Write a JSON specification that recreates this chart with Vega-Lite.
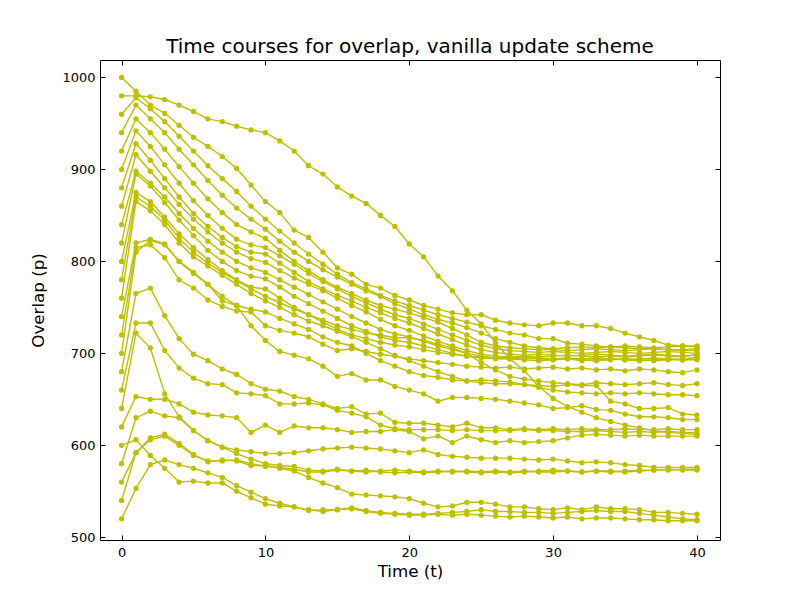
{
  "$schema": "https://vega.github.io/schema/vega-lite/v6.json",
  "width": 620,
  "height": 480,
  "autosize": {"type": "none"},
  "padding": {"left": 100, "top": 60, "right": 80, "bottom": 60},
  "background": "white",
  "title": {"text": "Time courses for overlap, vanilla update scheme", "font": "DejaVu Sans", "fontSize": 20, "fontWeight": "normal", "color": "black", "frame": "group", "offset": 3},
  "config": {
    "view": {"stroke": "black", "strokeWidth": 1},
    "axis": {"grid": false, "domain": false, "labelFont": "DejaVu Sans", "titleFont": "DejaVu Sans", "labelFontSize": 13, "titleFontSize": 16.7, "labelColor": "black", "titleColor": "black", "titleFontWeight": "normal", "tickColor": "black", "tickSize": -5, "tickWidth": 1}
  },
  "data": {"values": [
{"s":1000,"t":0,"p":1000},{"s":1000,"t":1,"p":985},{"s":1000,"t":2,"p":970},{"s":1000,"t":3,"p":961},{"s":1000,"t":4,"p":948},{"s":1000,"t":5,"p":935},{"s":1000,"t":6,"p":925},{"s":1000,"t":7,"p":914},{"s":1000,"t":8,"p":901},{"s":1000,"t":9,"p":883},{"s":1000,"t":10,"p":865},{"s":1000,"t":11,"p":853},{"s":1000,"t":12,"p":834},{"s":1000,"t":13,"p":826},{"s":1000,"t":14,"p":810},{"s":1000,"t":15,"p":793},{"s":1000,"t":16,"p":786},{"s":1000,"t":17,"p":775},{"s":1000,"t":18,"p":771},{"s":1000,"t":19,"p":763},{"s":1000,"t":20,"p":758},{"s":1000,"t":21,"p":752},{"s":1000,"t":22,"p":748},{"s":1000,"t":23,"p":744},{"s":1000,"t":24,"p":742},{"s":1000,"t":25,"p":742},{"s":1000,"t":26,"p":736},{"s":1000,"t":27,"p":733},{"s":1000,"t":28,"p":731},{"s":1000,"t":29,"p":730},{"s":1000,"t":30,"p":733},{"s":1000,"t":31,"p":733},{"s":1000,"t":32,"p":730},{"s":1000,"t":33,"p":730},{"s":1000,"t":34,"p":727},{"s":1000,"t":35,"p":722},{"s":1000,"t":36,"p":718},{"s":1000,"t":37,"p":714},{"s":1000,"t":38,"p":709},{"s":1000,"t":39,"p":708},{"s":1000,"t":40,"p":707},
{"s":980,"t":0,"p":980},{"s":980,"t":1,"p":980},{"s":980,"t":2,"p":979},{"s":980,"t":3,"p":976},{"s":980,"t":4,"p":970},{"s":980,"t":5,"p":963},{"s":980,"t":6,"p":955},{"s":980,"t":7,"p":952},{"s":980,"t":8,"p":947},{"s":980,"t":9,"p":943},{"s":980,"t":10,"p":940},{"s":980,"t":11,"p":931},{"s":980,"t":12,"p":920},{"s":980,"t":13,"p":904},{"s":980,"t":14,"p":895},{"s":980,"t":15,"p":881},{"s":980,"t":16,"p":871},{"s":980,"t":17,"p":863},{"s":980,"t":18,"p":850},{"s":980,"t":19,"p":838},{"s":980,"t":20,"p":819},{"s":980,"t":21,"p":805},{"s":980,"t":22,"p":784},{"s":980,"t":23,"p":768},{"s":980,"t":24,"p":747},{"s":980,"t":25,"p":732},{"s":980,"t":26,"p":711},{"s":980,"t":27,"p":694},{"s":980,"t":28,"p":681},{"s":980,"t":29,"p":664},{"s":980,"t":30,"p":651},{"s":980,"t":31,"p":642},{"s":980,"t":32,"p":636},{"s":980,"t":33,"p":630},{"s":980,"t":34,"p":626},{"s":980,"t":35,"p":622},{"s":980,"t":36,"p":619},{"s":980,"t":37,"p":616},{"s":980,"t":38,"p":614},{"s":980,"t":39,"p":613},{"s":980,"t":40,"p":612},
{"s":960,"t":0,"p":960},{"s":960,"t":1,"p":978},{"s":960,"t":2,"p":966},{"s":960,"t":3,"p":952},{"s":960,"t":4,"p":936},{"s":960,"t":5,"p":920},{"s":960,"t":6,"p":904},{"s":960,"t":7,"p":890},{"s":960,"t":8,"p":876},{"s":960,"t":9,"p":860},{"s":960,"t":10,"p":846},{"s":960,"t":11,"p":833},{"s":960,"t":12,"p":820},{"s":960,"t":13,"p":808},{"s":960,"t":14,"p":797},{"s":960,"t":15,"p":786},{"s":960,"t":16,"p":777},{"s":960,"t":17,"p":770},{"s":960,"t":18,"p":763},{"s":960,"t":19,"p":757},{"s":960,"t":20,"p":752},{"s":960,"t":21,"p":747},{"s":960,"t":22,"p":742},{"s":960,"t":23,"p":738},{"s":960,"t":24,"p":734},{"s":960,"t":25,"p":730},{"s":960,"t":26,"p":726},{"s":960,"t":27,"p":722},{"s":960,"t":28,"p":720},{"s":960,"t":29,"p":716},{"s":960,"t":30,"p":716},{"s":960,"t":31,"p":711},{"s":960,"t":32,"p":710},{"s":960,"t":33,"p":708},{"s":960,"t":34,"p":707},{"s":960,"t":35,"p":706},{"s":960,"t":36,"p":705},{"s":960,"t":37,"p":705},{"s":960,"t":38,"p":704},{"s":960,"t":39,"p":704},{"s":960,"t":40,"p":705},
{"s":940,"t":0,"p":940},{"s":940,"t":1,"p":970},{"s":940,"t":2,"p":955},{"s":940,"t":3,"p":940},{"s":940,"t":4,"p":922},{"s":940,"t":5,"p":905},{"s":940,"t":6,"p":888},{"s":940,"t":7,"p":872},{"s":940,"t":8,"p":858},{"s":940,"t":9,"p":846},{"s":940,"t":10,"p":835},{"s":940,"t":11,"p":822},{"s":940,"t":12,"p":810},{"s":940,"t":13,"p":800},{"s":940,"t":14,"p":791},{"s":940,"t":15,"p":783},{"s":940,"t":16,"p":775},{"s":940,"t":17,"p":768},{"s":940,"t":18,"p":762},{"s":940,"t":19,"p":754},{"s":940,"t":20,"p":748},{"s":940,"t":21,"p":742},{"s":940,"t":22,"p":737},{"s":940,"t":23,"p":733},{"s":940,"t":24,"p":728},{"s":940,"t":25,"p":722},{"s":940,"t":26,"p":716},{"s":940,"t":27,"p":712},{"s":940,"t":28,"p":708},{"s":940,"t":29,"p":706},{"s":940,"t":30,"p":705},{"s":940,"t":31,"p":706},{"s":940,"t":32,"p":707},{"s":940,"t":33,"p":706},{"s":940,"t":34,"p":707},{"s":940,"t":35,"p":708},{"s":940,"t":36,"p":707},{"s":940,"t":37,"p":706},{"s":940,"t":38,"p":707},{"s":940,"t":39,"p":708},{"s":940,"t":40,"p":708},
{"s":920,"t":0,"p":920},{"s":920,"t":1,"p":955},{"s":920,"t":2,"p":940},{"s":920,"t":3,"p":922},{"s":920,"t":4,"p":903},{"s":920,"t":5,"p":885},{"s":920,"t":6,"p":868},{"s":920,"t":7,"p":853},{"s":920,"t":8,"p":840},{"s":920,"t":9,"p":832},{"s":920,"t":10,"p":825},{"s":920,"t":11,"p":812},{"s":920,"t":12,"p":800},{"s":920,"t":13,"p":790},{"s":920,"t":14,"p":780},{"s":920,"t":15,"p":772},{"s":920,"t":16,"p":765},{"s":920,"t":17,"p":758},{"s":920,"t":18,"p":752},{"s":920,"t":19,"p":748},{"s":920,"t":20,"p":744},{"s":920,"t":21,"p":739},{"s":920,"t":22,"p":734},{"s":920,"t":23,"p":727},{"s":920,"t":24,"p":720},{"s":920,"t":25,"p":712},{"s":920,"t":26,"p":708},{"s":920,"t":27,"p":706},{"s":920,"t":28,"p":705},{"s":920,"t":29,"p":704},{"s":920,"t":30,"p":704},{"s":920,"t":31,"p":703},{"s":920,"t":32,"p":704},{"s":920,"t":33,"p":705},{"s":920,"t":34,"p":704},{"s":920,"t":35,"p":703},{"s":920,"t":36,"p":704},{"s":920,"t":37,"p":705},{"s":920,"t":38,"p":704},{"s":920,"t":39,"p":703},{"s":920,"t":40,"p":703},
{"s":900,"t":0,"p":900},{"s":900,"t":1,"p":942},{"s":900,"t":2,"p":925},{"s":900,"t":3,"p":905},{"s":900,"t":4,"p":885},{"s":900,"t":5,"p":866},{"s":900,"t":6,"p":850},{"s":900,"t":7,"p":836},{"s":900,"t":8,"p":824},{"s":900,"t":9,"p":818},{"s":900,"t":10,"p":815},{"s":900,"t":11,"p":806},{"s":900,"t":12,"p":797},{"s":900,"t":13,"p":787},{"s":900,"t":14,"p":778},{"s":900,"t":15,"p":770},{"s":900,"t":16,"p":762},{"s":900,"t":17,"p":755},{"s":900,"t":18,"p":748},{"s":900,"t":19,"p":742},{"s":900,"t":20,"p":738},{"s":900,"t":21,"p":732},{"s":900,"t":22,"p":726},{"s":900,"t":23,"p":720},{"s":900,"t":24,"p":714},{"s":900,"t":25,"p":709},{"s":900,"t":26,"p":705},{"s":900,"t":27,"p":703},{"s":900,"t":28,"p":702},{"s":900,"t":29,"p":701},{"s":900,"t":30,"p":702},{"s":900,"t":31,"p":701},{"s":900,"t":32,"p":700},{"s":900,"t":33,"p":701},{"s":900,"t":34,"p":702},{"s":900,"t":35,"p":701},{"s":900,"t":36,"p":700},{"s":900,"t":37,"p":701},{"s":900,"t":38,"p":702},{"s":900,"t":39,"p":701},{"s":900,"t":40,"p":700},
{"s":880,"t":0,"p":880},{"s":880,"t":1,"p":928},{"s":880,"t":2,"p":910},{"s":880,"t":3,"p":890},{"s":880,"t":4,"p":870},{"s":880,"t":5,"p":852},{"s":880,"t":6,"p":838},{"s":880,"t":7,"p":826},{"s":880,"t":8,"p":816},{"s":880,"t":9,"p":810},{"s":880,"t":10,"p":808},{"s":880,"t":11,"p":798},{"s":880,"t":12,"p":788},{"s":880,"t":13,"p":778},{"s":880,"t":14,"p":770},{"s":880,"t":15,"p":763},{"s":880,"t":16,"p":757},{"s":880,"t":17,"p":750},{"s":880,"t":18,"p":744},{"s":880,"t":19,"p":738},{"s":880,"t":20,"p":733},{"s":880,"t":21,"p":727},{"s":880,"t":22,"p":721},{"s":880,"t":23,"p":715},{"s":880,"t":24,"p":709},{"s":880,"t":25,"p":704},{"s":880,"t":26,"p":701},{"s":880,"t":27,"p":699},{"s":880,"t":28,"p":698},{"s":880,"t":29,"p":699},{"s":880,"t":30,"p":698},{"s":880,"t":31,"p":697},{"s":880,"t":32,"p":698},{"s":880,"t":33,"p":699},{"s":880,"t":34,"p":698},{"s":880,"t":35,"p":697},{"s":880,"t":36,"p":698},{"s":880,"t":37,"p":699},{"s":880,"t":38,"p":698},{"s":880,"t":39,"p":697},{"s":880,"t":40,"p":698},
{"s":860,"t":0,"p":860},{"s":860,"t":1,"p":916},{"s":860,"t":2,"p":898},{"s":860,"t":3,"p":880},{"s":860,"t":4,"p":862},{"s":860,"t":5,"p":846},{"s":860,"t":6,"p":832},{"s":860,"t":7,"p":820},{"s":860,"t":8,"p":810},{"s":860,"t":9,"p":803},{"s":860,"t":10,"p":799},{"s":860,"t":11,"p":790},{"s":860,"t":12,"p":782},{"s":860,"t":13,"p":775},{"s":860,"t":14,"p":768},{"s":860,"t":15,"p":760},{"s":860,"t":16,"p":752},{"s":860,"t":17,"p":745},{"s":860,"t":18,"p":737},{"s":860,"t":19,"p":730},{"s":860,"t":20,"p":725},{"s":860,"t":21,"p":719},{"s":860,"t":22,"p":713},{"s":860,"t":23,"p":708},{"s":860,"t":24,"p":703},{"s":860,"t":25,"p":699},{"s":860,"t":26,"p":697},{"s":860,"t":27,"p":696},{"s":860,"t":28,"p":695},{"s":860,"t":29,"p":695},{"s":860,"t":30,"p":694},{"s":860,"t":31,"p":695},{"s":860,"t":32,"p":694},{"s":860,"t":33,"p":695},{"s":860,"t":34,"p":694},{"s":860,"t":35,"p":693},{"s":860,"t":36,"p":694},{"s":860,"t":37,"p":695},{"s":860,"t":38,"p":694},{"s":860,"t":39,"p":693},{"s":860,"t":40,"p":696},
{"s":840,"t":0,"p":840},{"s":840,"t":1,"p":898},{"s":840,"t":2,"p":885},{"s":840,"t":3,"p":870},{"s":840,"t":4,"p":852},{"s":840,"t":5,"p":836},{"s":840,"t":6,"p":822},{"s":840,"t":7,"p":810},{"s":840,"t":8,"p":800},{"s":840,"t":9,"p":793},{"s":840,"t":10,"p":788},{"s":840,"t":11,"p":780},{"s":840,"t":12,"p":772},{"s":840,"t":13,"p":764},{"s":840,"t":14,"p":756},{"s":840,"t":15,"p":748},{"s":840,"t":16,"p":740},{"s":840,"t":17,"p":733},{"s":840,"t":18,"p":726},{"s":840,"t":19,"p":721},{"s":840,"t":20,"p":718},{"s":840,"t":21,"p":713},{"s":840,"t":22,"p":708},{"s":840,"t":23,"p":704},{"s":840,"t":24,"p":700},{"s":840,"t":25,"p":697},{"s":840,"t":26,"p":695},{"s":840,"t":27,"p":694},{"s":840,"t":28,"p":693},{"s":840,"t":29,"p":692},{"s":840,"t":30,"p":693},{"s":840,"t":31,"p":694},{"s":840,"t":32,"p":693},{"s":840,"t":33,"p":692},{"s":840,"t":34,"p":693},{"s":840,"t":35,"p":694},{"s":840,"t":36,"p":693},{"s":840,"t":37,"p":692},{"s":840,"t":38,"p":693},{"s":840,"t":39,"p":693},{"s":840,"t":40,"p":693},
{"s":820,"t":0,"p":820},{"s":820,"t":1,"p":895},{"s":820,"t":2,"p":882},{"s":820,"t":3,"p":864},{"s":820,"t":4,"p":845},{"s":820,"t":5,"p":828},{"s":820,"t":6,"p":812},{"s":820,"t":7,"p":800},{"s":820,"t":8,"p":790},{"s":820,"t":9,"p":784},{"s":820,"t":10,"p":781},{"s":820,"t":11,"p":772},{"s":820,"t":12,"p":762},{"s":820,"t":13,"p":754},{"s":820,"t":14,"p":746},{"s":820,"t":15,"p":738},{"s":820,"t":16,"p":730},{"s":820,"t":17,"p":724},{"s":820,"t":18,"p":718},{"s":820,"t":19,"p":714},{"s":820,"t":20,"p":712},{"s":820,"t":21,"p":708},{"s":820,"t":22,"p":704},{"s":820,"t":23,"p":700},{"s":820,"t":24,"p":697},{"s":820,"t":25,"p":695},{"s":820,"t":26,"p":694},{"s":820,"t":27,"p":694},{"s":820,"t":28,"p":695},{"s":820,"t":29,"p":694},{"s":820,"t":30,"p":693},{"s":820,"t":31,"p":694},{"s":820,"t":32,"p":692},{"s":820,"t":33,"p":693},{"s":820,"t":34,"p":694},{"s":820,"t":35,"p":693},{"s":820,"t":36,"p":692},{"s":820,"t":37,"p":693},{"s":820,"t":38,"p":694},{"s":820,"t":39,"p":693},{"s":820,"t":40,"p":694},
{"s":800,"t":0,"p":800},{"s":800,"t":1,"p":875},{"s":800,"t":2,"p":865},{"s":800,"t":3,"p":848},{"s":800,"t":4,"p":830},{"s":800,"t":5,"p":815},{"s":800,"t":6,"p":802},{"s":800,"t":7,"p":790},{"s":800,"t":8,"p":780},{"s":800,"t":9,"p":772},{"s":800,"t":10,"p":770},{"s":800,"t":11,"p":760},{"s":800,"t":12,"p":750},{"s":800,"t":13,"p":742},{"s":800,"t":14,"p":734},{"s":800,"t":15,"p":726},{"s":800,"t":16,"p":720},{"s":800,"t":17,"p":716},{"s":800,"t":18,"p":712},{"s":800,"t":19,"p":709},{"s":800,"t":20,"p":707},{"s":800,"t":21,"p":704},{"s":800,"t":22,"p":701},{"s":800,"t":23,"p":699},{"s":800,"t":24,"p":697},{"s":800,"t":25,"p":696},{"s":800,"t":26,"p":695},{"s":800,"t":27,"p":696},{"s":800,"t":28,"p":697},{"s":800,"t":29,"p":696},{"s":800,"t":30,"p":697},{"s":800,"t":31,"p":698},{"s":800,"t":32,"p":697},{"s":800,"t":33,"p":696},{"s":800,"t":34,"p":697},{"s":800,"t":35,"p":696},{"s":800,"t":36,"p":697},{"s":800,"t":37,"p":698},{"s":800,"t":38,"p":697},{"s":800,"t":39,"p":696},{"s":800,"t":40,"p":699},
{"s":780,"t":0,"p":780},{"s":780,"t":1,"p":870},{"s":780,"t":2,"p":860},{"s":780,"t":3,"p":845},{"s":780,"t":4,"p":825},{"s":780,"t":5,"p":810},{"s":780,"t":6,"p":798},{"s":780,"t":7,"p":788},{"s":780,"t":8,"p":779},{"s":780,"t":9,"p":770},{"s":780,"t":10,"p":762},{"s":780,"t":11,"p":755},{"s":780,"t":12,"p":748},{"s":780,"t":13,"p":742},{"s":780,"t":14,"p":736},{"s":780,"t":15,"p":730},{"s":780,"t":16,"p":726},{"s":780,"t":17,"p":722},{"s":780,"t":18,"p":720},{"s":780,"t":19,"p":717},{"s":780,"t":20,"p":717},{"s":780,"t":21,"p":714},{"s":780,"t":22,"p":710},{"s":780,"t":23,"p":706},{"s":780,"t":24,"p":700},{"s":780,"t":25,"p":690},{"s":780,"t":26,"p":682},{"s":780,"t":27,"p":675},{"s":780,"t":28,"p":672},{"s":780,"t":29,"p":670},{"s":780,"t":30,"p":668},{"s":780,"t":31,"p":667},{"s":780,"t":32,"p":666},{"s":780,"t":33,"p":668},{"s":780,"t":34,"p":667},{"s":780,"t":35,"p":666},{"s":780,"t":36,"p":667},{"s":780,"t":37,"p":668},{"s":780,"t":38,"p":666},{"s":780,"t":39,"p":665},{"s":780,"t":40,"p":667},
{"s":760,"t":0,"p":760},{"s":760,"t":1,"p":865},{"s":760,"t":2,"p":855},{"s":760,"t":3,"p":840},{"s":760,"t":4,"p":820},{"s":760,"t":5,"p":805},{"s":760,"t":6,"p":795},{"s":760,"t":7,"p":785},{"s":760,"t":8,"p":775},{"s":760,"t":9,"p":765},{"s":760,"t":10,"p":757},{"s":760,"t":11,"p":750},{"s":760,"t":12,"p":742},{"s":760,"t":13,"p":735},{"s":760,"t":14,"p":730},{"s":760,"t":15,"p":724},{"s":760,"t":16,"p":718},{"s":760,"t":17,"p":712},{"s":760,"t":18,"p":705},{"s":760,"t":19,"p":698},{"s":760,"t":20,"p":692},{"s":760,"t":21,"p":686},{"s":760,"t":22,"p":680},{"s":760,"t":23,"p":675},{"s":760,"t":24,"p":670},{"s":760,"t":25,"p":668},{"s":760,"t":26,"p":667},{"s":760,"t":27,"p":667},{"s":760,"t":28,"p":666},{"s":760,"t":29,"p":665},{"s":760,"t":30,"p":664},{"s":760,"t":31,"p":666},{"s":760,"t":32,"p":665},{"s":760,"t":33,"p":665},{"s":760,"t":34,"p":648},{"s":760,"t":35,"p":645},{"s":760,"t":36,"p":640},{"s":760,"t":37,"p":640},{"s":760,"t":38,"p":641},{"s":760,"t":39,"p":634},{"s":760,"t":40,"p":633},
{"s":740,"t":0,"p":740},{"s":740,"t":1,"p":820},{"s":740,"t":2,"p":824},{"s":740,"t":3,"p":819},{"s":740,"t":4,"p":800},{"s":740,"t":5,"p":788},{"s":740,"t":6,"p":775},{"s":740,"t":7,"p":762},{"s":740,"t":8,"p":752},{"s":740,"t":9,"p":748},{"s":740,"t":10,"p":745},{"s":740,"t":11,"p":738},{"s":740,"t":12,"p":732},{"s":740,"t":13,"p":726},{"s":740,"t":14,"p":718},{"s":740,"t":15,"p":712},{"s":740,"t":16,"p":708},{"s":740,"t":17,"p":700},{"s":740,"t":18,"p":692},{"s":740,"t":19,"p":686},{"s":740,"t":20,"p":680},{"s":740,"t":21,"p":676},{"s":740,"t":22,"p":674},{"s":740,"t":23,"p":671},{"s":740,"t":24,"p":670},{"s":740,"t":25,"p":671},{"s":740,"t":26,"p":670},{"s":740,"t":27,"p":669},{"s":740,"t":28,"p":666},{"s":740,"t":29,"p":663},{"s":740,"t":30,"p":660},{"s":740,"t":31,"p":658},{"s":740,"t":32,"p":657},{"s":740,"t":33,"p":656},{"s":740,"t":34,"p":657},{"s":740,"t":35,"p":656},{"s":740,"t":36,"p":657},{"s":740,"t":37,"p":656},{"s":740,"t":38,"p":655},{"s":740,"t":39,"p":655},{"s":740,"t":40,"p":654},
{"s":720,"t":0,"p":720},{"s":720,"t":1,"p":815},{"s":720,"t":2,"p":818},{"s":720,"t":3,"p":804},{"s":720,"t":4,"p":780},{"s":720,"t":5,"p":771},{"s":720,"t":6,"p":758},{"s":720,"t":7,"p":751},{"s":720,"t":8,"p":746},{"s":720,"t":9,"p":745},{"s":720,"t":10,"p":730},{"s":720,"t":11,"p":725},{"s":720,"t":12,"p":722},{"s":720,"t":13,"p":718},{"s":720,"t":14,"p":710},{"s":720,"t":15,"p":703},{"s":720,"t":16,"p":705},{"s":720,"t":17,"p":702},{"s":720,"t":18,"p":699},{"s":720,"t":19,"p":697},{"s":720,"t":20,"p":694},{"s":720,"t":21,"p":692},{"s":720,"t":22,"p":690},{"s":720,"t":23,"p":688},{"s":720,"t":24,"p":686},{"s":720,"t":25,"p":685},{"s":720,"t":26,"p":684},{"s":720,"t":27,"p":685},{"s":720,"t":28,"p":683},{"s":720,"t":29,"p":684},{"s":720,"t":30,"p":685},{"s":720,"t":31,"p":683},{"s":720,"t":32,"p":684},{"s":720,"t":33,"p":682},{"s":720,"t":34,"p":683},{"s":720,"t":35,"p":681},{"s":720,"t":36,"p":683},{"s":720,"t":37,"p":682},{"s":720,"t":38,"p":680},{"s":720,"t":39,"p":679},{"s":720,"t":40,"p":682},
{"s":700,"t":0,"p":700},{"s":700,"t":1,"p":810},{"s":700,"t":2,"p":823},{"s":700,"t":3,"p":818},{"s":700,"t":4,"p":800},{"s":700,"t":5,"p":787},{"s":700,"t":6,"p":775},{"s":700,"t":7,"p":757},{"s":700,"t":8,"p":752},{"s":700,"t":9,"p":730},{"s":700,"t":10,"p":714},{"s":700,"t":11,"p":702},{"s":700,"t":12,"p":698},{"s":700,"t":13,"p":694},{"s":700,"t":14,"p":686},{"s":700,"t":15,"p":675},{"s":700,"t":16,"p":678},{"s":700,"t":17,"p":671},{"s":700,"t":18,"p":671},{"s":700,"t":19,"p":664},{"s":700,"t":20,"p":660},{"s":700,"t":21,"p":656},{"s":700,"t":22,"p":648},{"s":700,"t":23,"p":652},{"s":700,"t":24,"p":652},{"s":700,"t":25,"p":651},{"s":700,"t":26,"p":650},{"s":700,"t":27,"p":648},{"s":700,"t":28,"p":646},{"s":700,"t":29,"p":644},{"s":700,"t":30,"p":640},{"s":700,"t":31,"p":641},{"s":700,"t":32,"p":643},{"s":700,"t":33,"p":639},{"s":700,"t":34,"p":638},{"s":700,"t":35,"p":634},{"s":700,"t":36,"p":631},{"s":700,"t":37,"p":631},{"s":700,"t":38,"p":630},{"s":700,"t":39,"p":628},{"s":700,"t":40,"p":628},
{"s":680,"t":0,"p":680},{"s":680,"t":1,"p":765},{"s":680,"t":2,"p":771},{"s":680,"t":3,"p":741},{"s":680,"t":4,"p":716},{"s":680,"t":5,"p":699},{"s":680,"t":6,"p":692},{"s":680,"t":7,"p":683},{"s":680,"t":8,"p":677},{"s":680,"t":9,"p":667},{"s":680,"t":10,"p":661},{"s":680,"t":11,"p":659},{"s":680,"t":12,"p":653},{"s":680,"t":13,"p":650},{"s":680,"t":14,"p":645},{"s":680,"t":15,"p":640},{"s":680,"t":16,"p":642},{"s":680,"t":17,"p":634},{"s":680,"t":18,"p":635},{"s":680,"t":19,"p":625},{"s":680,"t":20,"p":624},{"s":680,"t":21,"p":624},{"s":680,"t":22,"p":622},{"s":680,"t":23,"p":620},{"s":680,"t":24,"p":624},{"s":680,"t":25,"p":619},{"s":680,"t":26,"p":619},{"s":680,"t":27,"p":617},{"s":680,"t":28,"p":618},{"s":680,"t":29,"p":617},{"s":680,"t":30,"p":618},{"s":680,"t":31,"p":617},{"s":680,"t":32,"p":618},{"s":680,"t":33,"p":617},{"s":680,"t":34,"p":617},{"s":680,"t":35,"p":618},{"s":680,"t":36,"p":617},{"s":680,"t":37,"p":617},{"s":680,"t":38,"p":618},{"s":680,"t":39,"p":617},{"s":680,"t":40,"p":617},
{"s":660,"t":0,"p":660},{"s":660,"t":1,"p":733},{"s":660,"t":2,"p":733},{"s":660,"t":3,"p":703},{"s":660,"t":4,"p":684},{"s":660,"t":5,"p":673},{"s":660,"t":6,"p":667},{"s":660,"t":7,"p":666},{"s":660,"t":8,"p":657},{"s":660,"t":9,"p":656},{"s":660,"t":10,"p":654},{"s":660,"t":11,"p":645},{"s":660,"t":12,"p":645},{"s":660,"t":13,"p":646},{"s":660,"t":14,"p":644},{"s":660,"t":15,"p":638},{"s":660,"t":16,"p":635},{"s":660,"t":17,"p":631},{"s":660,"t":18,"p":622},{"s":660,"t":19,"p":618},{"s":660,"t":20,"p":617},{"s":660,"t":21,"p":617},{"s":660,"t":22,"p":617},{"s":660,"t":23,"p":616},{"s":660,"t":24,"p":617},{"s":660,"t":25,"p":616},{"s":660,"t":26,"p":616},{"s":660,"t":27,"p":616},{"s":660,"t":28,"p":617},{"s":660,"t":29,"p":616},{"s":660,"t":30,"p":616},{"s":660,"t":31,"p":615},{"s":660,"t":32,"p":615},{"s":660,"t":33,"p":616},{"s":660,"t":34,"p":615},{"s":660,"t":35,"p":614},{"s":660,"t":36,"p":615},{"s":660,"t":37,"p":614},{"s":660,"t":38,"p":615},{"s":660,"t":39,"p":614},{"s":660,"t":40,"p":614},
{"s":640,"t":0,"p":640},{"s":640,"t":1,"p":722},{"s":640,"t":2,"p":706},{"s":640,"t":3,"p":656},{"s":640,"t":4,"p":631},{"s":640,"t":5,"p":616},{"s":640,"t":6,"p":605},{"s":640,"t":7,"p":598},{"s":640,"t":8,"p":591},{"s":640,"t":9,"p":585},{"s":640,"t":10,"p":580},{"s":640,"t":11,"p":578},{"s":640,"t":12,"p":577},{"s":640,"t":13,"p":573},{"s":640,"t":14,"p":572},{"s":640,"t":15,"p":574},{"s":640,"t":16,"p":572},{"s":640,"t":17,"p":571},{"s":640,"t":18,"p":572},{"s":640,"t":19,"p":573},{"s":640,"t":20,"p":572},{"s":640,"t":21,"p":571},{"s":640,"t":22,"p":572},{"s":640,"t":23,"p":571},{"s":640,"t":24,"p":572},{"s":640,"t":25,"p":571},{"s":640,"t":26,"p":572},{"s":640,"t":27,"p":571},{"s":640,"t":28,"p":572},{"s":640,"t":29,"p":571},{"s":640,"t":30,"p":571},{"s":640,"t":31,"p":572},{"s":640,"t":32,"p":571},{"s":640,"t":33,"p":572},{"s":640,"t":34,"p":572},{"s":640,"t":35,"p":571},{"s":640,"t":36,"p":572},{"s":640,"t":37,"p":573},{"s":640,"t":38,"p":573},{"s":640,"t":39,"p":574},{"s":640,"t":40,"p":574},
{"s":620,"t":0,"p":620},{"s":620,"t":1,"p":653},{"s":620,"t":2,"p":650},{"s":620,"t":3,"p":650},{"s":620,"t":4,"p":645},{"s":620,"t":5,"p":636},{"s":620,"t":6,"p":633},{"s":620,"t":7,"p":632},{"s":620,"t":8,"p":630},{"s":620,"t":9,"p":614},{"s":620,"t":10,"p":622},{"s":620,"t":11,"p":614},{"s":620,"t":12,"p":621},{"s":620,"t":13,"p":619},{"s":620,"t":14,"p":619},{"s":620,"t":15,"p":617},{"s":620,"t":16,"p":614},{"s":620,"t":17,"p":615},{"s":620,"t":18,"p":615},{"s":620,"t":19,"p":617},{"s":620,"t":20,"p":615},{"s":620,"t":21,"p":607},{"s":620,"t":22,"p":610},{"s":620,"t":23,"p":603},{"s":620,"t":24,"p":610},{"s":620,"t":25,"p":606},{"s":620,"t":26,"p":603},{"s":620,"t":27,"p":605},{"s":620,"t":28,"p":603},{"s":620,"t":29,"p":604},{"s":620,"t":30,"p":605},{"s":620,"t":31,"p":608},{"s":620,"t":32,"p":611},{"s":620,"t":33,"p":612},{"s":620,"t":34,"p":611},{"s":620,"t":35,"p":610},{"s":620,"t":36,"p":611},{"s":620,"t":37,"p":610},{"s":620,"t":38,"p":610},{"s":620,"t":39,"p":610},{"s":620,"t":40,"p":610},
{"s":600,"t":0,"p":600},{"s":600,"t":1,"p":606},{"s":600,"t":2,"p":589},{"s":600,"t":3,"p":575},{"s":600,"t":4,"p":560},{"s":600,"t":5,"p":561},{"s":600,"t":6,"p":559},{"s":600,"t":7,"p":559},{"s":600,"t":8,"p":550},{"s":600,"t":9,"p":543},{"s":600,"t":10,"p":536},{"s":600,"t":11,"p":534},{"s":600,"t":12,"p":533},{"s":600,"t":13,"p":529},{"s":600,"t":14,"p":530},{"s":600,"t":15,"p":530},{"s":600,"t":16,"p":532},{"s":600,"t":17,"p":529},{"s":600,"t":18,"p":527},{"s":600,"t":19,"p":526},{"s":600,"t":20,"p":525},{"s":600,"t":21,"p":525},{"s":600,"t":22,"p":526},{"s":600,"t":23,"p":527},{"s":600,"t":24,"p":528},{"s":600,"t":25,"p":530},{"s":600,"t":26,"p":528},{"s":600,"t":27,"p":528},{"s":600,"t":28,"p":527},{"s":600,"t":29,"p":527},{"s":600,"t":30,"p":526},{"s":600,"t":31,"p":527},{"s":600,"t":32,"p":528},{"s":600,"t":33,"p":529},{"s":600,"t":34,"p":528},{"s":600,"t":35,"p":528},{"s":600,"t":36,"p":526},{"s":600,"t":37,"p":524},{"s":600,"t":38,"p":522},{"s":600,"t":39,"p":520},{"s":600,"t":40,"p":519},
{"s":580,"t":0,"p":580},{"s":580,"t":1,"p":630},{"s":580,"t":2,"p":637},{"s":580,"t":3,"p":632},{"s":580,"t":4,"p":630},{"s":580,"t":5,"p":616},{"s":580,"t":6,"p":605},{"s":580,"t":7,"p":598},{"s":580,"t":8,"p":595},{"s":580,"t":9,"p":593},{"s":580,"t":10,"p":591},{"s":580,"t":11,"p":591},{"s":580,"t":12,"p":592},{"s":580,"t":13,"p":594},{"s":580,"t":14,"p":596},{"s":580,"t":15,"p":597},{"s":580,"t":16,"p":598},{"s":580,"t":17,"p":597},{"s":580,"t":18,"p":596},{"s":580,"t":19,"p":594},{"s":580,"t":20,"p":592},{"s":580,"t":21,"p":595},{"s":580,"t":22,"p":590},{"s":580,"t":23,"p":588},{"s":580,"t":24,"p":587},{"s":580,"t":25,"p":586},{"s":580,"t":26,"p":586},{"s":580,"t":27,"p":586},{"s":580,"t":28,"p":585},{"s":580,"t":29,"p":584},{"s":580,"t":30,"p":585},{"s":580,"t":31,"p":583},{"s":580,"t":32,"p":581},{"s":580,"t":33,"p":582},{"s":580,"t":34,"p":581},{"s":580,"t":35,"p":579},{"s":580,"t":36,"p":578},{"s":580,"t":37,"p":576},{"s":580,"t":38,"p":576},{"s":580,"t":39,"p":576},{"s":580,"t":40,"p":576},
{"s":560,"t":0,"p":560},{"s":560,"t":1,"p":592},{"s":560,"t":2,"p":608},{"s":560,"t":3,"p":612},{"s":560,"t":4,"p":602},{"s":560,"t":5,"p":590},{"s":560,"t":6,"p":582},{"s":560,"t":7,"p":584},{"s":560,"t":8,"p":583},{"s":560,"t":9,"p":578},{"s":560,"t":10,"p":578},{"s":560,"t":11,"p":575},{"s":560,"t":12,"p":572},{"s":560,"t":13,"p":565},{"s":560,"t":14,"p":559},{"s":560,"t":15,"p":554},{"s":560,"t":16,"p":547},{"s":560,"t":17,"p":546},{"s":560,"t":18,"p":545},{"s":560,"t":19,"p":544},{"s":560,"t":20,"p":542},{"s":560,"t":21,"p":537},{"s":560,"t":22,"p":533},{"s":560,"t":23,"p":534},{"s":560,"t":24,"p":538},{"s":560,"t":25,"p":538},{"s":560,"t":26,"p":536},{"s":560,"t":27,"p":533},{"s":560,"t":28,"p":533},{"s":560,"t":29,"p":531},{"s":560,"t":30,"p":530},{"s":560,"t":31,"p":532},{"s":560,"t":32,"p":530},{"s":560,"t":33,"p":533},{"s":560,"t":34,"p":531},{"s":560,"t":35,"p":531},{"s":560,"t":36,"p":530},{"s":560,"t":37,"p":527},{"s":560,"t":38,"p":527},{"s":560,"t":39,"p":526},{"s":560,"t":40,"p":525},
{"s":540,"t":0,"p":540},{"s":540,"t":1,"p":592},{"s":540,"t":2,"p":606},{"s":540,"t":3,"p":610},{"s":540,"t":4,"p":600},{"s":540,"t":5,"p":589},{"s":540,"t":6,"p":583},{"s":540,"t":7,"p":583},{"s":540,"t":8,"p":584},{"s":540,"t":9,"p":580},{"s":540,"t":10,"p":577},{"s":540,"t":11,"p":576},{"s":540,"t":12,"p":574},{"s":540,"t":13,"p":571},{"s":540,"t":14,"p":571},{"s":540,"t":15,"p":573},{"s":540,"t":16,"p":572},{"s":540,"t":17,"p":573},{"s":540,"t":18,"p":571},{"s":540,"t":19,"p":570},{"s":540,"t":20,"p":571},{"s":540,"t":21,"p":570},{"s":540,"t":22,"p":571},{"s":540,"t":23,"p":572},{"s":540,"t":24,"p":571},{"s":540,"t":25,"p":570},{"s":540,"t":26,"p":571},{"s":540,"t":27,"p":570},{"s":540,"t":28,"p":571},{"s":540,"t":29,"p":572},{"s":540,"t":30,"p":573},{"s":540,"t":31,"p":572},{"s":540,"t":32,"p":571},{"s":540,"t":33,"p":572},{"s":540,"t":34,"p":571},{"s":540,"t":35,"p":572},{"s":540,"t":36,"p":573},{"s":540,"t":37,"p":573},{"s":540,"t":38,"p":574},{"s":540,"t":39,"p":573},{"s":540,"t":40,"p":573},
{"s":520,"t":0,"p":520},{"s":520,"t":1,"p":553},{"s":520,"t":2,"p":579},{"s":520,"t":3,"p":584},{"s":520,"t":4,"p":579},{"s":520,"t":5,"p":575},{"s":520,"t":6,"p":570},{"s":520,"t":7,"p":565},{"s":520,"t":8,"p":556},{"s":520,"t":9,"p":549},{"s":520,"t":10,"p":542},{"s":520,"t":11,"p":537},{"s":520,"t":12,"p":533},{"s":520,"t":13,"p":530},{"s":520,"t":14,"p":528},{"s":520,"t":15,"p":530},{"s":520,"t":16,"p":531},{"s":520,"t":17,"p":528},{"s":520,"t":18,"p":526},{"s":520,"t":19,"p":525},{"s":520,"t":20,"p":524},{"s":520,"t":21,"p":524},{"s":520,"t":22,"p":525},{"s":520,"t":23,"p":524},{"s":520,"t":24,"p":525},{"s":520,"t":25,"p":524},{"s":520,"t":26,"p":523},{"s":520,"t":27,"p":522},{"s":520,"t":28,"p":523},{"s":520,"t":29,"p":522},{"s":520,"t":30,"p":521},{"s":520,"t":31,"p":522},{"s":520,"t":32,"p":520},{"s":520,"t":33,"p":521},{"s":520,"t":34,"p":521},{"s":520,"t":35,"p":520},{"s":520,"t":36,"p":519},{"s":520,"t":37,"p":519},{"s":520,"t":38,"p":518},{"s":520,"t":39,"p":518},{"s":520,"t":40,"p":518}
  ]},
  "layer": [
    {
      "mark": {"type": "line", "color": "#bfbf00", "strokeWidth": 1.4},
      "encoding": {
        "x": {"field": "t", "type": "quantitative", "scale": {"domain": [-1.5, 41.6], "nice": false, "zero": false}, "axis": {"orient": "bottom", "values": [0, 10, 20, 30, 40], "title": "Time (t)", "labelPadding": 11, "titlePadding": 4}},
        "y": {"field": "p", "type": "quantitative", "scale": {"domain": [497, 1019], "nice": false, "zero": false}, "axis": {"orient": "left", "values": [500, 600, 700, 800, 900, 1000], "format": "d", "title": "Overlap (p)", "labelPadding": 10, "titlePadding": 14}},
        "detail": {"field": "s", "type": "nominal"}
      }
    },
    {
      "mark": {"type": "circle", "color": "#bfbf00", "size": 28, "opacity": 1},
      "encoding": {
        "x": {"field": "t", "type": "quantitative", "scale": {"domain": [-1.5, 41.6], "nice": false, "zero": false}, "axis": {"orient": "top", "values": [0, 10, 20, 30, 40], "labels": false, "title": null}},
        "y": {"field": "p", "type": "quantitative", "scale": {"domain": [497, 1019], "nice": false, "zero": false}, "axis": {"orient": "right", "values": [500, 600, 700, 800, 900, 1000], "labels": false, "title": null}}
      }
    }
  ],
  "resolve": {"axis": {"x": "independent", "y": "independent"}}
}
